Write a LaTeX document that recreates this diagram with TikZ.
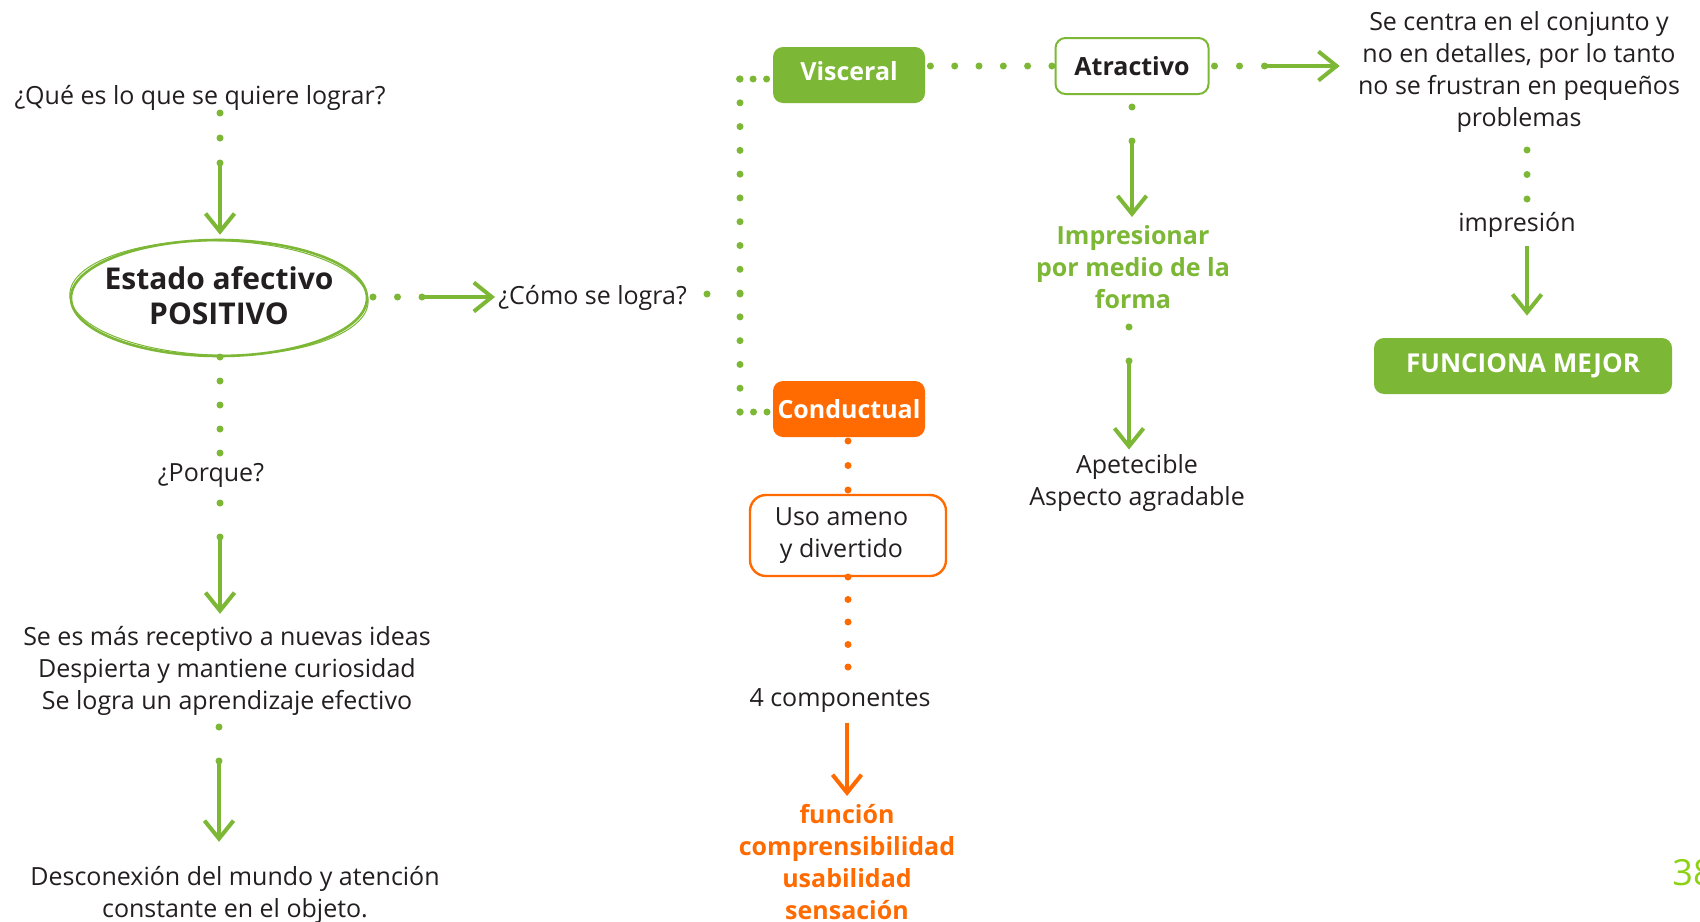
\documentclass[tikz,border=0pt]{standalone}
\usepackage{fontspec}
\setmainfont{Open Sans}
\usetikzlibrary{arrows.meta,calc,shapes.geometric}
\definecolor{leaf}{HTML}{7CB735}
\definecolor{tang}{HTML}{FF6B00}
\definecolor{ink}{HTML}{231F20}
\definecolor{lime}{HTML}{8CD112}
\begin{document}
\begin{tikzpicture}[x=0.5pt,y=-0.5pt,
  plain/.style={text=ink,font=\fontsize{12.5}{16}\selectfont,align=center,inner sep=0pt,yshift=-1.4pt},
  strong/.style={font=\fontsize{12.5}{16}\selectfont\bfseries,align=center,inner sep=0pt},
  fillbox/.style={rounded corners=5pt,minimum width=76pt,minimum height=28pt,inner sep=0pt,text=white,font=\fontsize{12.5}{15}\selectfont\bfseries},
  dotline/.style={line width=3.5pt,line cap=round,dash pattern=on 0pt off #1,shorten >=-1pt},
  gdots/.style={dotline=#1,draw=leaf},
  odots/.style={dotline=#1,draw=tang},
  barb/.style={line width=2pt,-{Straight Barb[length=9pt,width=14.5pt]}},
  garrow/.style={barb,draw=leaf},
  oarrow/.style={barb,draw=tang},
]
\fill[white] (0,0) rectangle (1700,921);
\useasboundingbox (0,0) rectangle (1700,921);

% ---- left column
\node[plain] (que) at (200,95) {¿Qué es lo que se quiere lograr?};
\node[ellipse,draw=leaf,line width=1.3pt,minimum width=148pt,minimum height=58pt,inner sep=0pt] (estado) at (219,298) {};
\draw[leaf,line width=0.5pt,rotate around={-1.5:(estado.center)}] (estado.center) ellipse [x radius=74.6pt,y radius=28.6pt];
\node[text=ink,font=\fontsize{15}{17.5}\selectfont\bfseries,align=center,inner sep=0pt] (estadotxt) at (219,296) {Estado afectivo\\POSITIVO};
\node[plain] (porque) at (211,473) {¿Porque?};
\node[plain] (recep) at (227,668) {Se es más receptivo a nuevas ideas\\Despierta y mantiene curiosidad\\Se logra un aprendizaje efectivo};
\node[plain] (descon) at (235,892) {Desconexión del mundo y atención\\constante en el objeto.};

% ---- middle
\node[plain,anchor=west] (como) at (498,295) {¿Cómo se logra?};
\node[fillbox,fill=leaf] (visc) at (849,75) {\raisebox{3.8pt}{Visceral}};
\node[fillbox,fill=tang] (cond) at (849,409) {Conductual};
\node[draw=tang,line width=1.2pt,rounded corners=8pt,minimum width=98pt,minimum height=40.5pt,fill=white,
      text=ink,font=\fontsize{12.5}{16}\selectfont,align=center,inner sep=0pt] (uso) at (848,535.5)
      {\hspace*{-6.5pt}Uso ameno\\\hspace*{-6.5pt}y divertido};
\node[plain] (comp) at (840,698) {4 componentes};
\node[strong,text=tang] (four) at (847,862) {función\\comprensibilidad\\usabilidad\\sensación};

% ---- right
\node[fillbox,fill=white,draw=leaf,line width=1pt,text=ink,minimum width=76.5pt] (atr) at (1132,66) {Atractivo};
\node[strong,text=leaf] (forma) at (1133,267) {Impresionar\\por medio de la\\forma};
\node[plain] (apet) at (1137,480) {Apetecible\\Aspecto agradable};
\node[plain] (centra) at (1519,69.5) {Se centra en el conjunto y\\no en detalles, por lo tanto\\no se frustran en pequeños\\problemas};
\node[plain] (impr) at (1517,222) {impresión};
\node[fillbox,fill=leaf,minimum width=149pt,font=\fontsize{13}{15}\selectfont\bfseries] (func) at (1523,366) {FUNCIONA MEJOR};
\node[anchor=west,text=lime,font=\fontsize{18}{22}\selectfont,inner sep=0pt] (page) at (1672,873) {38};

% ---- connectors, left column
\coordinate (a1) at (220,113); \coordinate (a2) at (220,163);
\draw[gdots=12.5pt] (a1) -- (a2);
\draw[garrow,shorten >=2pt] (a2) -- (a2 |- estado.north);
\coordinate (b1) at (220,357); \coordinate (b2) at (220,453);
\draw[gdots=12pt] (b1) -- (b2);
\coordinate (b3) at (220,503); \coordinate (b4) at (220,537);
\draw[gdots=17pt] (b3) -- (b4);
\draw[garrow,shorten >=6pt] (b4) -- (b4 |- recep.north);
\coordinate (d1) at (219,727); \coordinate (d2) at (219,761);
\draw[gdots=17pt] (d1) -- (d2);
\draw[garrow,shorten >=12pt] (d2) -- (d2 |- descon.north);

% ---- connectors, middle
\coordinate (e1) at (373,297); \coordinate (e2) at (422,297);
\draw[gdots=12.25pt] (e1) -- (e2);
\draw[garrow,shorten >=1.5pt] (e2) -- (como.west |- e2);
\coordinate (g1) at (707,294); \coordinate (g2) at (740,294);
\draw[gdots=16.5pt] (g1) -- (g2);
\coordinate (vt) at (740,79); \coordinate (vb) at (740,412);
\draw[gdots=6.75pt] ($(visc.west)+(-6,4)$) -- (vt);
\draw[gdots=11.893pt] (vt) -- (vb);
\draw[gdots=6.75pt] (vb) -- ($(cond.west)+(-6,3)$);
\coordinate (m1) at (848,441); \coordinate (m2) at (848,490);
\draw[odots=12.25pt] (m1) -- (m2);
\coordinate (n1) at (848,577); \coordinate (n2) at (848,667);
\draw[odots=11.25pt] (n1) -- (n2);
\coordinate (n3) at (847,723);
\draw[oarrow,shorten >=4pt] (n3) -- (n3 |- four.north);

% ---- connectors, right
\draw[gdots=12.15pt] ($(visc.east |- atr.west)+(5,0)$) -- ($(atr.west)+(-4,0)$);
\coordinate (h2) at (1264,66);
\draw[gdots=12.5pt] ($(atr.east)+(5,0)$) -- (h2);
\draw[garrow,shorten >=9pt] (h2) -- (centra.west |- h2);
\coordinate (i1) at (1132,107); \coordinate (i2) at (1132,141);
\draw[gdots=17pt] (i1) -- (i2);
\draw[garrow,shorten >=4pt] (i2) -- (i2 |- forma.north);
\coordinate (j1) at (1129,327); \coordinate (j2) at (1129,361);
\draw[gdots=17pt] (j1) -- (j2);
\draw[garrow,shorten >=2.2pt] (j2) -- (j2 |- apet.north);
\coordinate (k1) at (1527,150); \coordinate (k2) at (1527,199);
\draw[gdots=12.25pt] (k1) -- (k2);
\coordinate (k3) at (1527,246);
\draw[garrow,shorten >=11pt] (k3) -- (k3 |- func.north);
\end{tikzpicture}
\end{document}
